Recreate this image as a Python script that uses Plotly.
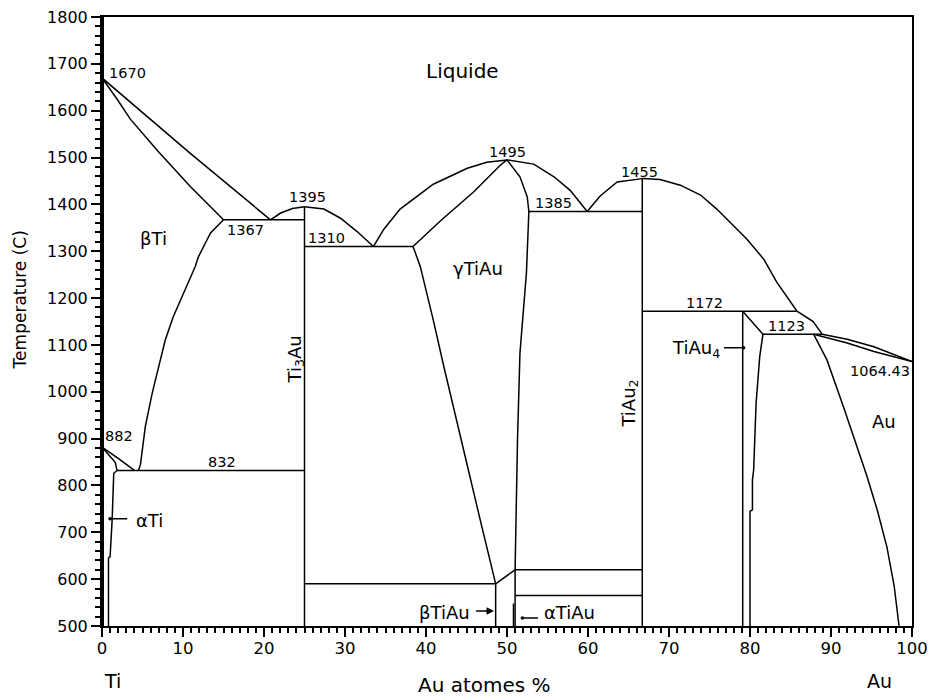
import plotly.graph_objects as go

# ---------------- axis ticks ----------------
x_ticks = list(range(0, 101, 10))
y_ticks = list(range(500, 1801, 100))

# ---------------- phase boundaries (Au at.%, T in C) ----------------
ti_edge_x = [0, 0]
ti_edge_t = [500, 1800]

liq_ti_x = [0, 10.9, 20.8]
liq_ti_t = [1670, 1509, 1367]

sol_ti_x = [0, 1.85, 3.5, 7.0, 10.9, 13.0, 15.0]
sol_ti_t = [1670, 1625, 1582, 1512, 1438, 1402, 1367]

eut1367_x = [15.0, 25.0]
eut1367_t = [1367, 1367]

ti3au_liq_l_x = [20.8, 22.0, 23.5, 25.0]
ti3au_liq_l_t = [1367, 1381, 1391, 1395]

ti3au_liq_r_x = [25.0, 27.4, 29.4, 31.5, 33.5]
ti3au_liq_r_t = [1395, 1390, 1371, 1342, 1310]

eut1310_x = [25.0, 38.4]
eut1310_t = [1310, 1310]

gam_liq_l_x = [33.5, 34.8, 36.8, 40.9, 45.1, 47.5, 50.0]
gam_liq_l_t = [1310, 1347, 1390, 1443, 1477, 1490, 1495]

gam_sol_l_x = [38.4, 41.8, 45.9, 49.2, 50.0]
gam_sol_l_t = [1310, 1365, 1427, 1484, 1495]

gam_liq_r_x = [50.0, 53.3, 55.8, 57.8, 59.9]
gam_liq_r_t = [1495, 1486, 1459, 1430, 1385]

gam_sol_r_x = [50.0, 51.6, 52.5, 52.7, 52.4, 52.0, 51.6, 51.3, 51.1, 51.0, 51.0]
gam_sol_r_t = [1495, 1459, 1416, 1385, 1254, 1175, 1083, 900, 700, 620, 500]

eut1385_x = [52.7, 66.7]
eut1385_t = [1385, 1385]

tiau2_liq_l_x = [59.9, 61.5, 63.6, 66.7]
tiau2_liq_l_t = [1385, 1418, 1448, 1455]

tiau2_liq_r_x = [66.7, 68.9, 71.4, 73.9, 75.9, 79.6, 81.7, 83.3, 85.8, 87.8, 88.9]
tiau2_liq_r_t = [1455, 1453, 1441, 1420, 1390, 1326, 1283, 1234, 1172, 1150, 1123]

gam_low_l_x = [38.4, 39.3, 40.9, 42.2, 46.7, 48.6]
gam_low_l_t = [1310, 1267, 1153, 1054, 726, 590]

h590_x = [25.0, 48.6]
h590_t = [590, 590]

btiau_x = [48.6, 48.6]
btiau_t = [590, 500]

slant_x = [48.6, 51.0]
slant_t = [590, 620]

h620_x = [51.0, 66.7]
h620_t = [620, 620]

h565_x = [51.0, 66.7]
h565_t = [565, 565]

atiau_x = [50.8, 50.8]
atiau_t = [500, 548]

tiau2_v_x = [66.7, 66.7]
tiau2_v_t = [1455, 500]

ti3au_v_x = [25.0, 25.0]
ti3au_v_t = [1395, 500]

eut832_x = [1.85, 25.0]
eut832_t = [832, 832]

beta_tr_x = [15.0, 13.4, 11.9, 11.5, 9.7, 8.8, 7.8, 7.0, 6.2, 5.35, 4.75, 4.5]
beta_tr_t = [1367, 1339, 1288, 1267, 1196, 1160, 1110, 1054, 997, 926, 845, 832]

beta_ab_x = [0, 2.0, 4.0]
beta_ab_t = [882, 858, 832]

alpha_ab_x = [0, 1.0, 1.65, 1.85]
alpha_ab_t = [882, 862, 849, 832]

alpha_solv_x = [1.85, 1.45, 1.25, 1.0, 0.8, 0.8]
alpha_solv_t = [832, 826, 726, 648, 645, 500]

eut1172_x = [66.7, 85.8]
eut1172_t = [1172, 1172]

tiau4_v_x = [79.1, 79.1]
tiau4_v_t = [1172, 500]

tiau4_r_x = [79.1, 81.6, 81.2, 80.75, 80.45, 80.3, 80.3, 80.0, 80.0]
tiau4_r_t = [1172, 1123, 1075, 975, 833, 812, 748, 745, 500]

eut1123_x = [81.6, 88.9]
eut1123_t = [1123, 1123]

au_solv_x = [87.85, 89.5, 91.6, 93.1, 94.4, 95.7, 96.9, 97.8, 98.4]
au_solv_t = [1123, 1068, 965, 890, 822, 748, 669, 585, 500]

au_liq_x = [88.9, 92.0, 95.3, 100.0]
au_liq_t = [1123, 1112, 1096, 1064.43]

au_sol_x = [87.85, 92.0, 95.3, 100.0]
au_sol_t = [1123, 1104, 1086, 1064.43]

boundaries = [
    (liq_ti_x, liq_ti_t), (sol_ti_x, sol_ti_t), (eut1367_x, eut1367_t),
    (ti3au_liq_l_x, ti3au_liq_l_t), (ti3au_liq_r_x, ti3au_liq_r_t),
    (eut1310_x, eut1310_t), (gam_liq_l_x, gam_liq_l_t), (gam_sol_l_x, gam_sol_l_t),
    (gam_liq_r_x, gam_liq_r_t), (gam_sol_r_x, gam_sol_r_t), (eut1385_x, eut1385_t),
    (tiau2_liq_l_x, tiau2_liq_l_t), (tiau2_liq_r_x, tiau2_liq_r_t),
    (gam_low_l_x, gam_low_l_t), (h590_x, h590_t), (btiau_x, btiau_t),
    (slant_x, slant_t), (h620_x, h620_t), (h565_x, h565_t), (atiau_x, atiau_t),
    (tiau2_v_x, tiau2_v_t), (ti3au_v_x, ti3au_v_t), (eut832_x, eut832_t),
    (beta_tr_x, beta_tr_t), (beta_ab_x, beta_ab_t), (alpha_ab_x, alpha_ab_t),
    (alpha_solv_x, alpha_solv_t), (eut1172_x, eut1172_t), (tiau4_v_x, tiau4_v_t),
    (tiau4_r_x, tiau4_r_t), (eut1123_x, eut1123_t), (au_solv_x, au_solv_t),
    (au_liq_x, au_liq_t), (au_sol_x, au_sol_t),
]

# ---------------- temperature labels ----------------
num_text = ["1670", "882", "832", "1367", "1395", "1310", "1495", "1385",
            "1455", "1172", "1123", "1064.43"]
num_x = [3.1, 2.15, 14.8, 17.7, 25.4, 27.7, 50.0, 55.8, 66.4, 74.4, 84.5, 96.0]
num_t = [1680, 905, 850, 1346, 1416, 1328, 1512, 1403, 1470, 1189, 1141, 1044]

# ---------------- phase labels ----------------
phase_text = ["βTi", "γTiAu", "Au"]
phase_x = [6.3, 46.4, 96.6]
phase_t = [1328, 1264, 937]

rot_text = ["Ti<sub>3</sub>Au", "TiAu<sub>2</sub>"]
rot_x = [23.9, 65.2]
rot_t = [1068, 975]

# arrow labels: text, text position, arrow tail, arrow tip
arr_text = ["αTi", "βTiAu", "αTiAu", "TiAu<sub>4</sub>"]
arr_lx = [5.85, 42.3, 57.7, 73.3]
arr_lt = [726, 529, 529, 1091]
arr_tail_x = [3.3, 46.0, 54.0, 76.6]
arr_tip_x = [1.0, 48.4, 51.9, 79.2]
arr_t = [729, 532, 517, 1094]
arr_head = [6, 2, 6, 6]

fig = go.Figure()
for bx, bt in boundaries:
    fig.add_trace(go.Scatter(x=bx, y=bt, mode="lines",
                             line=dict(color="black", width=1.5),
                             hoverinfo="skip", showlegend=False))
fig.add_trace(go.Scatter(x=ti_edge_x, y=ti_edge_t, mode="lines",
                         line=dict(color="black", width=4),
                         hoverinfo="skip", showlegend=False))

font_main = "DejaVu Sans"
ann = []
for t, x, y in zip(num_text, num_x, num_t):
    ann.append(dict(x=x, y=y, text=t, showarrow=False,
                    font=dict(family=font_main, size=14.5, color="black")))
for t, x, y in zip(phase_text, phase_x, phase_t):
    ann.append(dict(x=x, y=y, text=t, showarrow=False,
                    font=dict(family=font_main, size=18, color="black")))
for t, x, y in zip(rot_text, rot_x, rot_t):
    ann.append(dict(x=x, y=y, text=t, showarrow=False, textangle=-90,
                    font=dict(family=font_main, size=18, color="black")))
for t, lx, lt in zip(arr_text, arr_lx, arr_lt):
    ann.append(dict(x=lx, y=lt, text=t, showarrow=False,
                    font=dict(family=font_main, size=18, color="black")))
for tx0, tx1, ty, hd in zip(arr_tail_x, arr_tip_x, arr_t, arr_head):
    ann.append(dict(x=tx1, y=ty, ax=tx0, ay=ty, axref="x", ayref="y",
                    xref="x", yref="y", text="", showarrow=True,
                    arrowhead=hd, arrowsize=1.0 if hd == 2 else 0.6,
                    arrowwidth=1.5, arrowcolor="black", standoff=0))

ann.append(dict(x=44.5, y=1684, text="Liquide", showarrow=False,
                font=dict(family=font_main, size=20, color="black")))
ann.append(dict(x=0.472, y=-0.097, xref="paper", yref="paper", text="Au atomes %",
                xanchor="center", yanchor="middle",
                showarrow=False, font=dict(family=font_main, size=20, color="black")))
ann.append(dict(x=0.0127, y=-0.090, xref="paper", yref="paper", text="Ti",
                xanchor="center", yanchor="middle",
                showarrow=False, font=dict(family=font_main, size=19, color="black")))
ann.append(dict(x=0.960, y=-0.090, xref="paper", yref="paper", text="Au",
                xanchor="center", yanchor="middle",
                showarrow=False, font=dict(family=font_main, size=19, color="black")))
ann.append(dict(x=-0.101, y=0.535, xref="paper", yref="paper", text="Temperature (C)",
                textangle=-90, showarrow=False, xanchor="center", yanchor="middle",
                font=dict(family=font_main, size=17, color="black")))

fig.update_layout(
    width=933, height=700,
    margin=dict(l=102, r=21, t=17, b=74, autoexpand=False),
    paper_bgcolor="white", plot_bgcolor="white",
    showlegend=False,
    annotations=ann,
    font=dict(family=font_main, color="black"),
)
fig.update_xaxes(range=[0, 100], tickvals=x_ticks, ticks="outside", ticklen=9,
                 tickwidth=1.5, tickcolor="black", showgrid=False, zeroline=False,
                 showline=True, linecolor="black", linewidth=2, mirror=True,
                 automargin=False, ticklabelstandoff=-3,
                 tickfont=dict(family=font_main, size=16.5, color="black"),
                 minor=dict(dtick=1, ticks="outside", ticklen=5, tickwidth=1.5,
                            tickcolor="black", showgrid=False))
fig.update_yaxes(range=[500, 1800], tickvals=y_ticks, ticks="outside", ticklen=9,
                 tickwidth=1.5, tickcolor="black", showgrid=False, zeroline=False,
                 showline=True, linecolor="black", linewidth=2, mirror=True,
                 automargin=False,
                 tickfont=dict(family=font_main, size=16, color="black"),
                 minor=dict(dtick=20, ticks="outside", ticklen=5, tickwidth=1.5,
                            tickcolor="black", showgrid=False))

fig.write_html("out.html", config={"displayModeBar": False},
               post_script="document.body.style.margin='0';document.body.style.padding='0';")
